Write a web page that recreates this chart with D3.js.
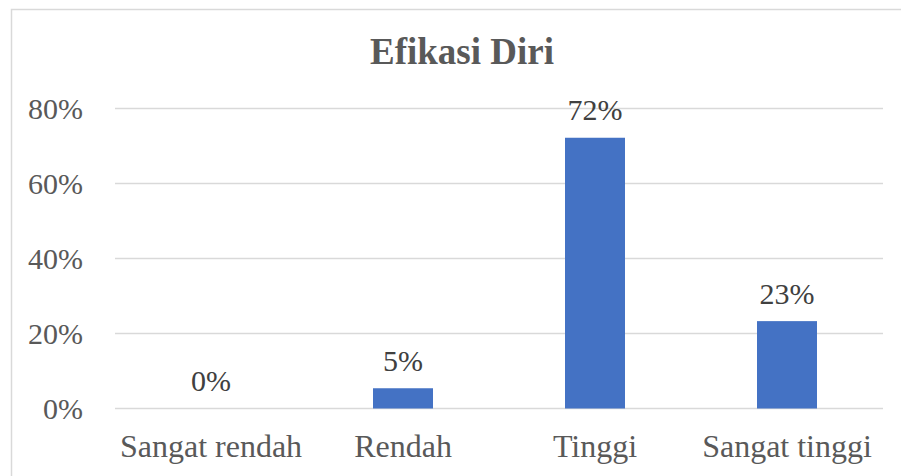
<!DOCTYPE html>
<html>
<head>
<meta charset="utf-8">
<script src="https://cdn.jsdelivr.net/npm/d3@7"></script>
<style>
  body { margin: 0; background: #fff; }
  text { font-family: "Liberation Serif", "Times New Roman", serif; fill: #595959; }
</style>
</head>
<body>
<svg width="901" height="476"></svg>
<script>
var categories = ['Sangat rendah', 'Rendah', 'Tinggi', 'Sangat tinggi'];
var values = [0, 0.054, 0.722, 0.233];
var yTicks = [0, 0.2, 0.4, 0.6, 0.8];

var width = 901, height = 476;
var margin = { left: 115, right: 18, top: 108.5, bottom: 67.5 };

var svg = d3.select("svg");

// chart frame (cut off at right and bottom in the reference)
svg.append("rect")
  .attr("x", 11.5).attr("y", 9.5)
  .attr("width", 920).attr("height", 500)
  .attr("fill", "none")
  .attr("stroke", "#d9d9d9")
  .attr("stroke-width", 1.5);

var x = d3.scaleBand()
  .domain(categories)
  .range([margin.left, width - margin.right])
  .paddingInner(0.6875)
  .paddingOuter(0.34375);

var y = d3.scaleLinear()
  .domain([0, 0.8])
  .range([height - margin.bottom, margin.top]);

// gridlines
svg.append("g")
  .selectAll("line")
  .data(yTicks)
  .enter()
  .append("line")
  .attr("x1", margin.left)
  .attr("x2", width - margin.right)
  .attr("y1", d => y(d))
  .attr("y2", d => y(d))
  .attr("stroke", "#d9d9d9")
  .attr("stroke-width", 1.5);

// y axis labels
var yAxis = d3.axisLeft(y)
  .tickValues(yTicks)
  .tickFormat(d3.format(".0%"))
  .tickSize(0)
  .tickPadding(32);

svg.append("g")
  .attr("transform", "translate(" + margin.left + ",0)")
  .call(yAxis)
  .call(g => g.select(".domain").remove())
  .selectAll("text")
    .attr("font-size", "30px")
    .attr("dy", "0.34em");

// x axis labels
var xAxis = d3.axisBottom(x).tickSize(0).tickPadding(26);

svg.append("g")
  .attr("transform", "translate(0," + (height - margin.bottom) + ")")
  .call(xAxis)
  .call(g => g.select(".domain").remove())
  .selectAll("text")
    .attr("font-size", "32px")
    .attr("dy", "0.71em");

// bars
svg.append("g")
  .selectAll("rect")
  .data(values)
  .enter()
  .append("rect")
  .attr("x", (d, i) => x(categories[i]))
  .attr("width", x.bandwidth())
  .attr("y", d => y(d))
  .attr("height", d => y(0) - y(d))
  .attr("fill", "#4472c4");

// value labels
svg.append("g")
  .selectAll("text")
  .data(values)
  .enter()
  .append("text")
  .attr("x", (d, i) => x(categories[i]) + x.bandwidth() / 2)
  .attr("y", d => y(d) - 17.5)
  .attr("text-anchor", "middle")
  .attr("font-size", "30px")
  .style("fill", "#404040")
  .text(d => d3.format(".0%")(d));

// title
svg.append("text")
  .attr("x", 462)
  .attr("y", 64)
  .attr("text-anchor", "middle")
  .attr("font-size", "37px")
  .attr("font-weight", "bold")
  .text("Efikasi Diri");
</script>
</body>
</html>
